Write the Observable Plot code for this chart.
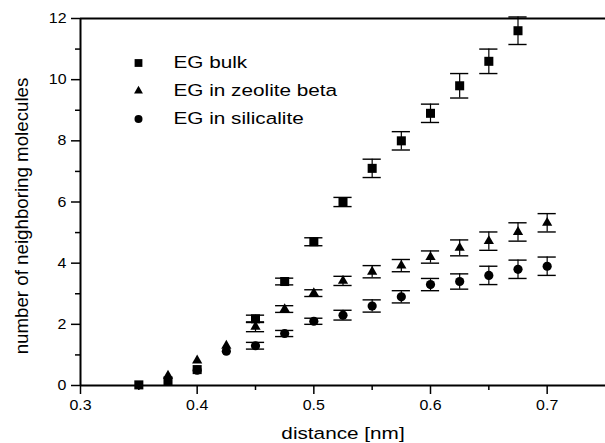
<!DOCTYPE html>
<html>
<head>
<meta charset="utf-8">
<script src="https://cdn.jsdelivr.net/npm/d3@7"></script>
<script src="https://cdn.jsdelivr.net/npm/@observablehq/plot@0.6"></script>
<style>
  html, body { margin: 0; padding: 0; background: #ffffff; }
  #chart { width: 605px; height: 443px; }
</style>
</head>
<body>
<div id="chart"></div>
<script>
// ---- Data ----
const seriesNames = ["EG bulk", "EG in zeolite beta", "EG in silicalite"];
const seriesSymbols = ["square", "triangle", "circle"];

const bulkX   = [0.35, 0.375, 0.4, 0.45, 0.475, 0.5, 0.525, 0.55, 0.575, 0.6, 0.625, 0.65, 0.675];
const bulkY   = [0.02, 0.15, 0.52, 2.18, 3.4, 4.7, 6.0, 7.1, 8.0, 8.9, 9.8, 10.6, 11.6];
const bulkErr = [0, 0, 0, 0.12, 0.11, 0.13, 0.15, 0.3, 0.3, 0.3, 0.4, 0.4, 0.45];

const zeoX   = [0.375, 0.4, 0.425, 0.45, 0.475, 0.5, 0.525, 0.55, 0.575, 0.6, 0.625, 0.65, 0.675, 0.7];
const zeoY   = [0.32, 0.82, 1.3, 1.92, 2.5, 3.02, 3.42, 3.72, 3.92, 4.2, 4.5, 4.72, 5.02, 5.32];
const zeoErr = [0, 0, 0, 0.16, 0.11, 0.11, 0.15, 0.2, 0.2, 0.2, 0.26, 0.3, 0.3, 0.3];

const silX   = [0.4, 0.425, 0.45, 0.475, 0.5, 0.525, 0.55, 0.575, 0.6, 0.625, 0.65, 0.675, 0.7];
const silY   = [0.5, 1.12, 1.3, 1.7, 2.1, 2.3, 2.6, 2.9, 3.3, 3.4, 3.6, 3.8, 3.9];
const silErr = [0, 0, 0.11, 0.1, 0.1, 0.16, 0.2, 0.2, 0.2, 0.25, 0.3, 0.3, 0.3];

const xMajorTicks = [0.3, 0.4, 0.5, 0.6, 0.7];
const xMinorTicks = [0.35, 0.45, 0.55, 0.65];
const yMajorTicks = [0, 2, 4, 6, 8, 10, 12];
const yMinorTicks = [1, 3, 5, 7, 9, 11];

const xLabel = "distance [nm]";
const yLabel = "number of neighboring molecules";

// ---- Build tables ----
const toRows = (xs, ys, es) => xs.map((x, i) => ({x, y: ys[i], e: es[i]}));
const bulk = toRows(bulkX, bulkY, bulkErr);
const zeo = toRows(zeoX, zeoY, zeoErr);
const sil = toRows(silX, silY, silErr);
const allSeries = [bulk, zeo, sil];
const markerR = {square: 5.1, triangle: 3.8, circle: 4.6};
const legendR = {square: 4.4, triangle: 3.3, circle: 4.0};
const capHalf = 0.0078;

const errMarks = [];
const dotMarks = [];
// draw order: silicalite, zeolite, bulk
[2, 1, 0].forEach(k => {
  const rows = allSeries[k].filter(d => d.e > 0);
  errMarks.push(
    Plot.ruleX(rows, {x: "x", y1: d => d.y - d.e, y2: d => d.y + d.e, stroke: "#000", strokeWidth: 1.2}),
    Plot.ruleY(rows, {y: d => d.y + d.e, x1: d => d.x - capHalf, x2: d => d.x + capHalf, stroke: "#000", strokeWidth: 1.4}),
    Plot.ruleY(rows, {y: d => d.y - d.e, x1: d => d.x - capHalf, x2: d => d.x + capHalf, stroke: "#000", strokeWidth: 1.4})
  );
  dotMarks.push(
    Plot.dot(allSeries[k], {x: "x", y: "y", symbol: () => seriesSymbols[k], r: markerR[seriesSymbols[k]], fill: "#000", stroke: "none"})
  );
});

const legendMarks = [];
seriesNames.forEach((name, i) => {
  const dy = 44.5 + i * 28;
  legendMarks.push(
    Plot.dot([name], {frameAnchor: "top-left", dx: 58, dy, symbol: () => seriesSymbols[i], r: legendR[seriesSymbols[i]], fill: "#000", stroke: "none"}),
    Plot.text([name], {frameAnchor: "top-left", dx: 93, dy, text: d => d, textAnchor: "start", lineAnchor: "middle", fontSize: 17, fill: "#000"})
  );
});

const chart = Plot.plot({
  width: 605,
  height: 443,
  marginLeft: 80,
  marginRight: 0,
  marginTop: 18,
  marginBottom: 58,
  x: {domain: [0.3, 0.75]},
  y: {domain: [0, 12]},
  style: {fontFamily: "'Liberation Sans', Arial, Helvetica, sans-serif", background: "#fff", color: "#000", overflow: "visible"},
  marks: [
    Plot.axisX(xMajorTicks, {tickSize: 9, tickPadding: 5, fontSize: 14.5, strokeWidth: 1.5, tickFormat: d => d.toFixed(1), label: null}),
    Plot.axisX(xMinorTicks, {tickSize: 5, strokeWidth: 1.5, tickFormat: () => "", label: null}),
    Plot.axisY(yMajorTicks, {tickSize: 9, tickPadding: 5, fontSize: 14.5, strokeWidth: 1.5, tickFormat: d => String(d), label: null}),
    Plot.axisY(yMinorTicks, {tickSize: 5, strokeWidth: 1.5, tickFormat: () => "", label: null}),
    ...errMarks,
    ...dotMarks,
    Plot.ruleX([0.3], {stroke: "#000", strokeWidth: 2}),
    Plot.ruleY([0, 12], {stroke: "#000", strokeWidth: 2}),
    ...legendMarks,
    Plot.text([xLabel], {frameAnchor: "bottom", dy: 48, text: d => d, textAnchor: "middle", lineAnchor: "middle", fontSize: 17, fill: "#000"}),
    Plot.text([yLabel], {frameAnchor: "left", dx: -58, dy: 14, rotate: -90, text: d => d, textAnchor: "middle", lineAnchor: "middle", fontSize: 18, fill: "#000"})
  ]
});

document.getElementById("chart").appendChild(chart);

// widen texts horizontally (the reference uses a wide rendering)
chart.querySelectorAll("text").forEach(t => {
  const fs = parseFloat(getComputedStyle(t).fontSize);
  const rotated = (t.getAttribute("transform") || "").includes("rotate");
  const s = rotated ? 1.04 : (fs >= 15 ? 1.22 : 1.1);
  let tr = t.getAttribute("transform");
  if (!tr) {
    const x = t.getAttribute("x") || 0, y = t.getAttribute("y") || 0;
    t.removeAttribute("x"); t.removeAttribute("y");
    tr = `translate(${x},${y})`;
  }
  t.setAttribute("transform", tr + ` scale(${s},1)`);
});
</script>
</body>
</html>
